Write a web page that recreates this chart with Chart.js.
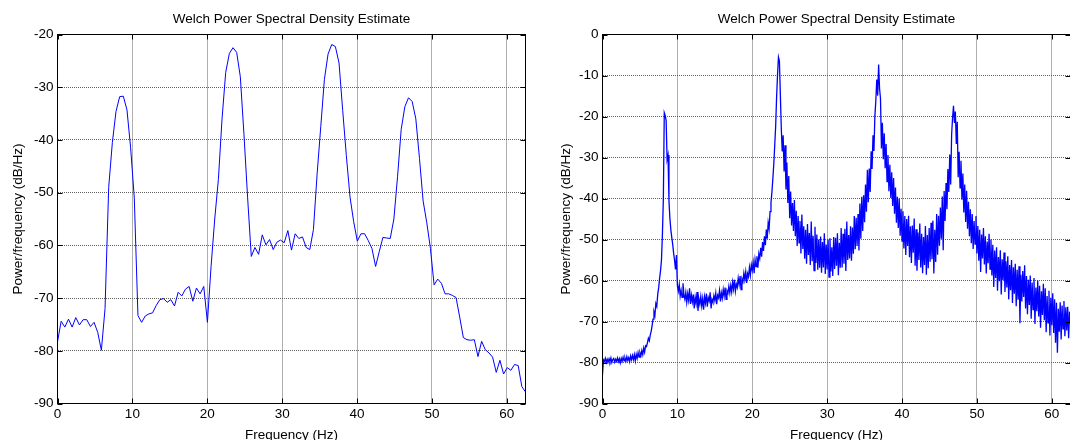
<!DOCTYPE html>
<html>
<head>
<meta charset="utf-8">
<script src="https://cdn.jsdelivr.net/npm/chart.js@4.4.1/dist/chart.umd.min.js"></script>
<style>
  html, body { margin: 0; padding: 0; background: #fff; overflow: hidden; width: 1070px; height: 440px; }
  canvas { position: absolute; top: 0; }
  #psdCoarse { left: 0; }
  #psdFine { left: 535px; }
</style>
</head>
<body>
<canvas id="psdCoarse" width="535" height="446"></canvas>
<canvas id="psdFine" width="545" height="446"></canvas>
<script>
// Sampling rate of the analysed signal; both estimates span 0 .. Fs/2.
const SAMPLE_RATE = 125;

const chartTitle = 'Welch Power Spectral Density Estimate';
const xAxisTitle = 'Frequency (Hz)';
const yAxisTitle = 'Power/frequency (dB/Hz)';

// Tick values shared by both panels
const freqTicks = [0, 10, 20, 30, 40, 50, 60];
const coarseDbTicks = [-90, -80, -70, -60, -50, -40, -30, -20];
const fineDbTicks = [-90, -80, -70, -60, -50, -40, -30, -20, -10, 0];

// Welch estimate, short segments (129 bins, dB/Hz)
const coarsePsd = [
  -78.3, -74.4, -75.5, -74.0, -75.5, -73.7, -75.1, -74.1, -74.1, -75.4,
  -74.6, -76.5, -79.9, -72.0, -49.0, -40.5, -34.6, -31.8, -31.7, -34.3,
  -41.5, -51.0, -73.3, -74.6, -73.4, -73.0, -72.8, -71.4, -70.3, -70.1,
  -70.8, -70.3, -71.5, -68.9, -69.6, -68.3, -67.8, -70.6, -68.1, -69.2,
  -67.8, -74.6, -64.0, -55.0, -47.5, -36.0, -27.2, -23.6, -22.5, -23.4,
  -28.0, -39.0, -51.0, -62.1, -60.4, -61.7, -58.0, -59.9, -58.9, -60.8,
  -59.4, -59.0, -59.5, -57.2, -60.9, -57.8, -58.7, -58.4, -60.4, -60.8,
  -57.0, -46.5, -37.5, -28.5, -23.7, -21.9, -22.3, -25.4, -34.4, -43.0,
  -50.8, -55.5, -59.2, -57.8, -57.8, -59.1, -60.6, -64.0, -61.2, -58.5,
  -58.6, -58.7, -55.0, -47.0, -38.0, -33.7, -32.0, -32.7, -36.0, -43.5,
  -51.6, -55.7, -60.6, -67.5, -66.4, -67.2, -69.2, -69.2, -69.5, -69.9,
  -73.6, -77.5, -77.9, -78.0, -77.9, -81.1, -78.2, -79.8, -80.4, -81.2,
  -84.1, -81.8, -84.4, -83.2, -83.7, -82.6, -82.8, -86.8, -87.8
];

// Welch estimate, long segments (501 bins, 0.125 Hz apart, one row per Hz)
const finePsd = [
  -83.0, -79.4, -79.8, -79.0, -80.0, -79.2, -79.9, -79.1,
  -79.8, -78.9, -80.0, -79.3, -79.0, -79.9, -79.2, -79.7,
  -78.9, -79.8, -79.1, -80.1, -79.0, -79.7, -78.7, -79.6,
  -78.9, -79.7, -78.6, -79.5, -78.8, -79.8, -78.4, -79.3,
  -78.3, -79.3, -78.1, -79.6, -78.0, -79.0, -77.6, -78.7,
  -77.6, -78.4, -77.1, -78.1, -76.5, -77.5, -75.9, -76.1,
  -75.2, -74.1, -74.7, -73.3, -72.4, -71.0, -69.4, -67.6,
  -68.5, -65.6, -66.3, -63.4, -61.8, -59.5, -57.6, -55.0,
  -48.8, -40.2, -19.1, -19.8, -21.0, -30.5, -29.4, -40.6,
  -44.8, -47.6, -49.5, -51.2, -53.4, -55.1, -57.3, -53.8,
  -61.2, -62.6, -61.0, -63.8, -62.4, -64.1, -60.7, -63.5,
  -64.6, -62.9, -65.3, -63.2, -64.8, -61.9, -65.7, -63.6,
  -65.2, -63.4, -66.8, -64.1, -65.6, -62.8, -67.4, -64.5,
  -65.8, -63.9, -66.2, -64.4, -67.1, -64.0, -65.5, -63.2,
  -66.4, -64.2, -65.0, -62.9, -66.8, -64.6, -65.3, -63.7,
  -64.9, -63.1, -65.8, -63.6, -64.2, -62.4, -65.1, -63.0,
  -64.3, -62.2, -63.8, -61.7, -64.6, -62.5, -63.1, -61.4,
  -63.0, -61.2, -62.8, -60.4, -62.1, -59.8, -62.6, -60.9,
  -61.7, -59.4, -61.0, -58.9, -62.2, -59.6, -60.3, -58.2,
  -59.8, -57.9, -60.6, -58.3, -59.1, -56.8, -58.7, -56.2,
  -57.5, -55.6, -58.2, -54.9, -56.6, -54.1, -56.9, -53.5,
  -54.6, -52.0, -54.2, -50.6, -52.8, -49.2, -51.4, -47.6,
  -49.8, -45.9, -47.4, -43.2, -41.0, -38.4, -35.2, -31.6,
  -27.0, -22.4, -15.3, -9.8, -5.5, -6.4, -14.6, -22.8,
  -28.5, -24.6, -33.4, -27.0, -37.8, -31.2, -41.1, -34.5,
  -44.8, -38.3, -46.6, -41.1, -47.9, -40.4, -49.2, -43.0,
  -51.6, -44.3, -50.8, -45.5, -53.4, -43.9, -52.3, -46.8,
  -54.7, -47.6, -55.9, -46.2, -53.8, -48.4, -56.2, -45.6,
  -55.3, -49.1, -57.6, -46.9, -55.7, -48.8, -57.4, -50.0,
  -56.9, -49.3, -58.1, -50.6, -56.8, -48.5, -58.4, -51.2,
  -57.3, -50.0, -59.2, -49.7, -57.8, -51.9, -58.9, -49.4,
  -57.2, -49.6, -56.4, -48.5, -58.7, -50.8, -56.9, -47.2,
  -56.8, -48.6, -55.9, -47.4, -57.7, -45.6, -55.0, -48.9,
  -54.6, -46.8, -55.2, -47.1, -53.5, -44.3, -52.4, -44.7,
  -51.6, -43.8, -52.7, -41.2, -49.8, -39.6, -47.9, -39.2,
  -45.8, -36.6, -43.2, -33.0, -40.9, -32.7, -38.4, -28.5,
  -32.8, -24.6, -28.4, -19.9, -16.2, -11.0, -14.9, -7.3,
  -13.2, -15.6, -27.8, -21.5, -30.4, -24.1, -32.6, -26.7,
  -35.9, -29.4, -38.2, -31.8, -39.9, -33.6, -41.8, -35.0,
  -43.7, -37.3, -45.9, -39.6, -47.2, -40.0, -49.1, -42.5,
  -50.4, -43.1, -52.2, -44.3, -53.8, -45.0, -51.6, -44.2,
  -54.3, -46.8, -55.7, -46.6, -53.2, -44.9, -56.4, -47.5,
  -57.6, -48.3, -55.0, -46.1, -56.8, -48.6, -58.2, -49.4,
  -56.2, -46.7, -58.6, -48.9, -57.0, -47.2, -55.4, -45.9,
  -54.8, -45.4, -58.3, -47.6, -55.5, -43.8, -53.7, -44.2,
  -51.5, -42.2, -49.8, -39.5, -52.6, -38.2, -45.5, -36.2,
  -42.6, -32.8, -38.4, -29.3, -36.6, -24.4, -20.3, -17.4,
  -21.6, -18.8, -26.7, -21.3, -34.8, -28.6, -37.4, -30.8,
  -40.3, -33.9, -43.4, -36.6, -45.7, -38.1, -47.4, -40.8,
  -49.2, -42.6, -50.9, -43.8, -52.3, -45.5, -51.1, -44.3,
  -53.4, -46.7, -55.2, -47.6, -57.9, -48.8, -54.6, -47.2,
  -56.1, -49.2, -58.3, -50.5, -55.8, -48.6, -57.2, -50.0,
  -58.8, -51.3, -61.6, -52.7, -59.4, -51.9, -62.5, -54.3,
  -60.2, -52.6, -63.4, -54.8, -59.9, -53.2, -62.8, -55.3,
  -61.7, -54.1, -64.6, -56.2, -62.4, -55.0, -65.5, -56.8,
  -63.2, -55.9, -66.3, -57.4, -64.7, -56.5, -70.4, -58.6,
  -65.1, -57.7, -64.0, -56.3, -66.8, -58.9, -68.2, -59.8,
  -66.0, -58.8, -69.3, -60.5, -67.1, -59.4, -70.6, -61.7,
  -67.5, -60.0, -68.8, -61.3, -71.5, -62.6, -68.4, -60.8,
  -69.7, -61.9, -72.6, -63.8, -70.3, -62.5, -73.4, -64.2,
  -70.9, -63.1, -72.8, -64.6, -75.2, -65.4, -77.6, -66.9,
  -72.5, -65.3, -74.4, -66.1, -71.8, -65.0, -73.6, -66.5,
  -72.2, -66.4, -74.1, -67.6, -70.5
];

// Pair each bin with its frequency (bins are evenly spaced from 0 to Fs/2)
function toPoints(values) {
  const step = (SAMPLE_RATE / 2) / (values.length - 1);
  return values.map((v, k) => ({ x: k * step, y: v }));
}

const FONT = { family: '"Liberation Sans", Arial, Helvetica, sans-serif', size: 13.5 };
Chart.defaults.font.family = FONT.family;
Chart.defaults.font.size = FONT.size;
Chart.defaults.color = '#000';

// Closed axes box with short inward tick marks on all four sides
const axesBox = {
  id: 'axesBox',
  afterDatasetsDraw(chart) {
    const { ctx, chartArea: a, scales: { x, y } } = chart;
    const len = 5;
    ctx.save();
    ctx.strokeStyle = '#000';
    ctx.lineWidth = 1;
    ctx.beginPath();
    x.ticks.forEach(t => {
      const px = Math.round(x.getPixelForValue(t.value)) + 0.5;
      ctx.moveTo(px, a.bottom); ctx.lineTo(px, a.bottom - len);
      ctx.moveTo(px, a.top); ctx.lineTo(px, a.top + len);
    });
    y.ticks.forEach(t => {
      const py = Math.round(y.getPixelForValue(t.value)) + 0.5;
      ctx.moveTo(a.left, py); ctx.lineTo(a.left + len, py);
      ctx.moveTo(a.right, py); ctx.lineTo(a.right - len, py);
    });
    ctx.stroke();
    ctx.strokeRect(a.left, a.top, a.right - a.left, a.bottom - a.top);
    ctx.restore();
  }
};

function makePsdChart(canvasId, values, dbTicks, geom) {
  const gridStyle = { color: '#606060', lineWidth: 1, drawTicks: false };
  const borderStyle = { display: false, dash: [1, 1] };
  return new Chart(document.getElementById(canvasId), {
    type: 'line',
    data: {
      datasets: [{
        data: toPoints(values),
        borderColor: '#0000ff',
        borderWidth: geom.lineWidth,
        pointRadius: 0,
        tension: 0,
        fill: false
      }]
    },
    options: {
      responsive: false,
      animation: false,
      events: [],
      layout: { padding: { left: 0, right: geom.padRight, top: 0, bottom: 0 } },
      plugins: {
        legend: { display: false },
        tooltip: { enabled: false },
        title: {
          display: true,
          text: chartTitle,
          fullSize: false,
          color: '#000',
          font: { size: FONT.size, weight: 'normal' },
          padding: { top: 10.9, bottom: 7.4 }
        }
      },
      scales: {
        x: {
          type: 'linear',
          min: freqTicks[0],
          max: SAMPLE_RATE / 2,
          afterBuildTicks(scale) { scale.ticks = freqTicks.map(v => ({ value: v })); },
          ticks: { includeBounds: false, autoSkip: false, maxRotation: 0, padding: 3, color: '#000' },
          grid: gridStyle,
          border: borderStyle,
          title: { display: true, text: xAxisTitle, color: '#000', padding: { top: 0, bottom: 2.4 } },
          afterFit(scale) { scale.height = 42.5; }
        },
        y: {
          type: 'linear',
          min: dbTicks[0],
          max: dbTicks[dbTicks.length - 1],
          afterBuildTicks(scale) { scale.ticks = dbTicks.map(v => ({ value: v })); },
          ticks: { autoSkip: false, padding: 4, color: '#000' },
          grid: gridStyle,
          border: borderStyle,
          title: { display: true, text: yAxisTitle, color: '#000', padding: { top: geom.yTitlePad, bottom: 0 } },
          afterFit(scale) { scale.width = geom.yAxisWidth; }
        }
      }
    },
    plugins: [axesBox]
  });
}

makePsdChart('psdCoarse', coarsePsd, coarseDbTicks, { yAxisWidth: 57.5, padRight: 9.5, yTitlePad: 9.9, lineWidth: 1 });
makePsdChart('psdFine', finePsd, fineDbTicks, { yAxisWidth: 67.5, padRight: 9.5, yTitlePad: 22.9, lineWidth: 1.3 });
</script>
</body>
</html>
